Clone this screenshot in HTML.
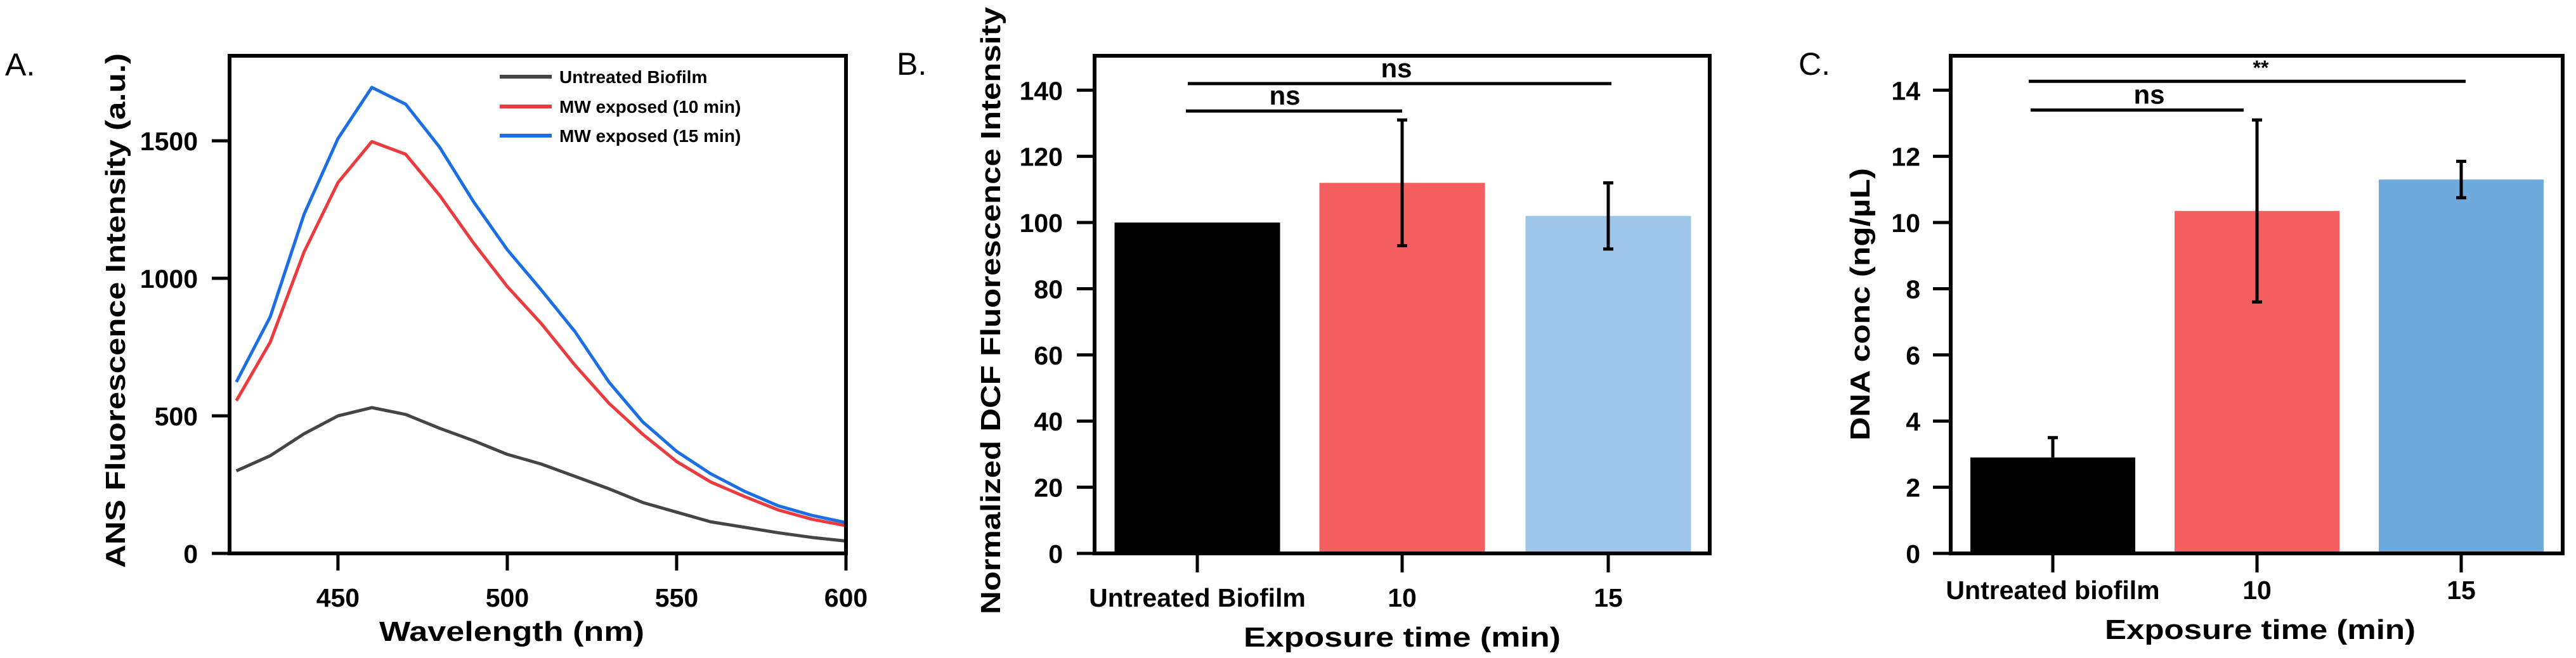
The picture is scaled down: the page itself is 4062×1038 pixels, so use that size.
<!DOCTYPE html>
<html><head><meta charset="utf-8"><style>
html,body{margin:0;padding:0;background:#fff}
svg{display:block;font-family:"Liberation Sans",Arial,sans-serif}
</style></head><body>
<svg id="fig" width="4062" height="1038" viewBox="0 0 4062 1038" xmlns="http://www.w3.org/2000/svg"></svg>
<script>
// Panel A data
const wavelengths=[420,430,440,450,460,470,480,490,500,510,520,530,540,550,560,570,580,590,600];
const untreated=[300,355,435,500,530,505,455,410,360,325,280,235,185,150,115,95,75,58,45];
const mw10=[555,768,1096,1348,1497,1451,1302,1129,970,836,684,546,433,334,260,207,158,124,101];
const mw15=[623,860,1233,1508,1694,1633,1477,1279,1104,958,806,623,478,371,290,226,173,138,112];
const aXTicks=[450,500,550,600];
const aYTicks=[0,500,1000,1500];
// Panel B data
const bCats=["Untreated Biofilm","10","15"];
const bVals=[100,112,102];
const bErrHi=[null,131,112];
const bErrLo=[null,93,92];
const bYTicks=[0,20,40,60,80,100,120,140];
// Panel C data
const cCats=["Untreated biofilm","10","15"];
const cVals=[2.9,10.35,11.3];
const cErrHi=[3.5,13.1,11.85];
const cErrLo=[null,7.6,10.75];
const cYTicks=[0,2,4,6,8,10,12,14];

const NS="http://www.w3.org/2000/svg";
const svg=document.getElementById('fig');
function el(tag,attrs,parent,text){const e=document.createElementNS(NS,tag);for(const k in attrs)e.setAttribute(k,attrs[k]);if(text!==undefined)e.textContent=text;(parent||svg).appendChild(e);return e;}

const TOP=88,BOT=873,TFS=41;

function frame(g,L,R){
  el('rect',{x:L,y:TOP,width:R-L,height:BOT-TOP,fill:'none',stroke:'#000','stroke-width':6},g);
}

// ---------- Panel A ----------
(function(){
  const g=el('g',{});
  
  
  const L=362,R=1334,xmin=418,xmax=600,ymax=1809;
  const x=v=>L+(v-xmin)/(xmax-xmin)*(R-L);
  const y=v=>BOT-v/ymax*(BOT-TOP);
  const series=[[untreated,'#454545','untreated-line'],[mw10,'#ea3b3e','mw-10min-line'],[mw15,'#1b6fe3','mw-15min-line']];
  series.forEach(([d,c,n])=>{
    const p=el('polyline',{points:d.map((v,i)=>x(wavelengths[i])+','+y(v)).join(' '),fill:'none',stroke:c,'stroke-width':5,'stroke-linejoin':'round'},g);
    
    
  });
  frame(g,L,R);
  aXTicks.forEach(t=>{
    el('line',{x1:x(t),x2:x(t),y1:BOT,y2:900,stroke:'#000','stroke-width':5},g);
    const tl=el('text',{x:x(t),y:957,'text-anchor':'middle','font-size':TFS,'font-weight':'bold'},g,t);
    
    
  });
  aYTicks.forEach(t=>{
    el('line',{x1:334,x2:L,y1:y(t),y2:y(t),stroke:'#000','stroke-width':5},g);
    const tl=el('text',{x:312,y:y(t)+15,'text-anchor':'end','font-size':TFS,'font-weight':'bold'},g,t);
    
    
  });
  const leg=[['Untreated Biofilm','#454545',121],['MW exposed (10 min)','#ea3b3e',168],['MW exposed (15 min)','#1b6fe3',214]];
  leg.forEach(([t,c,yy])=>{
    el('line',{x1:788,x2:870,y1:yy,y2:yy,stroke:c,'stroke-width':6},g);
    const lt=el('text',{x:882,y:yy+10,'font-size':28,'font-weight':'bold'},g,t);
    
    
  });
})();
</script>
<script>
(function(){
  const add=(a,t,n)=>{const e=el('text',a,svg,t);return e;};
  add({x:8,y:119,'font-size':50},'A.','panel-a-label');
  add({x:1414,y:118,'font-size':50},'B.','panel-b-label');
  add({x:2836,y:118,'font-size':50},'C.','panel-c-label');
  add({x:807,y:1011,'text-anchor':'middle','font-size':44,'font-weight':'bold',textLength:418,lengthAdjust:'spacingAndGlyphs'},'Wavelength (nm)','x-axis-title-a');
  add({x:0,y:0,'text-anchor':'middle','font-size':44,'font-weight':'bold',transform:'translate(197,490) rotate(-90)',textLength:812,lengthAdjust:'spacingAndGlyphs'},'ANS Fluorescence Intensity (a.u.)','y-axis-title-a');
  add({x:2211,y:1020,'text-anchor':'middle','font-size':44,'font-weight':'bold',textLength:500,lengthAdjust:'spacingAndGlyphs'},'Exposure time (min)','x-axis-title-b');
  add({x:0,y:0,'text-anchor':'middle','font-size':44,'font-weight':'bold',transform:'translate(1577,490) rotate(-90)',textLength:958,lengthAdjust:'spacingAndGlyphs'},'Normalized DCF Fluorescence Intensity','y-axis-title-b');
  add({x:3564,y:1008,'text-anchor':'middle','font-size':44,'font-weight':'bold',textLength:490,lengthAdjust:'spacingAndGlyphs'},'Exposure time (min)','x-axis-title-c');
  add({x:0,y:0,'text-anchor':'middle','font-size':44,'font-weight':'bold',transform:'translate(2948,480) rotate(-90)',textLength:430,lengthAdjust:'spacingAndGlyphs'},'DNA conc (ng/\u00b5L)','y-axis-title-c');
})();

function barPanel(name,L,R,ymax,cats,vals,hi,lo,ticks,colors,centers,bw,tickLblX,sig,catLblY){
  const g=el('g',{});
  
  
  const y=v=>BOT-v/ymax*(BOT-TOP);
  vals.forEach((v,i)=>{
    const r=el('rect',{x:centers[i]-bw/2,y:y(v),width:bw,height:BOT-y(v),fill:colors[i]},g);
    
    
  });
  vals.forEach((v,i)=>{
    const cx=centers[i];
    if(hi[i]!=null){
      const top=y(hi[i]),bot=lo[i]!=null?y(lo[i]):y(v);
      el('line',{x1:cx,x2:cx,y1:top,y2:bot,stroke:'#000','stroke-width':5},g);
      el('line',{x1:cx-8,x2:cx+8,y1:top,y2:top,stroke:'#000','stroke-width':5},g);
      if(lo[i]!=null)el('line',{x1:cx-8,x2:cx+8,y1:bot,y2:bot,stroke:'#000','stroke-width':5},g);
    }
  });
  frame(g,L,R);
  ticks.forEach(t=>{
    el('line',{x1:L-28,x2:L,y1:y(t),y2:y(t),stroke:'#000','stroke-width':5},g);
    const tl=el('text',{x:tickLblX,y:y(t)+15,'text-anchor':'end','font-size':TFS,'font-weight':'bold'},g,t);
    
    
  });
  cats.forEach((c,i)=>{
    el('line',{x1:centers[i],x2:centers[i],y1:BOT,y2:903,stroke:'#000','stroke-width':5},g);
    const tl=el('text',{x:centers[i],y:catLblY,'text-anchor':'middle','font-size':TFS,'font-weight':'bold'},g,c);
    
    
  });
  sig.forEach(s=>{
    const yy=y(s.v);
    el('line',{x1:s.x1,x2:s.x2,y1:yy,y2:yy,stroke:'#000','stroke-width':5},g);
    const st=el('text',{x:s.tx,y:yy-10,'text-anchor':'middle','font-size':s.fs,'font-weight':'bold'},g,s.t);
    
    
  });
}
barPanel('panel-b',1726,2696,150.4,bCats,bVals,bErrHi,bErrLo,bYTicks,['#000','#f55f5f','#9ec6e8'],[1888,2211,2536],261,1676,
  [{v:142,x1:1873,x2:2541,tx:2202,t:'ns',fs:42},{v:133.7,x1:1870,x2:2211,tx:2026,t:'ns',fs:42}],957);
barPanel('panel-c',3076,4041,15.04,cCats,cVals,cErrHi,cErrLo,cYTicks,['#000','#f55f5f','#6eaadb'],[3237,3559,3881],260,3028,
  [{v:14.27,x1:3199,x2:3888,tx:3565,t:'**',fs:32},{v:13.4,x1:3202,x2:3538,tx:3389,t:'ns',fs:42}],945);
</script>
</body></html>
